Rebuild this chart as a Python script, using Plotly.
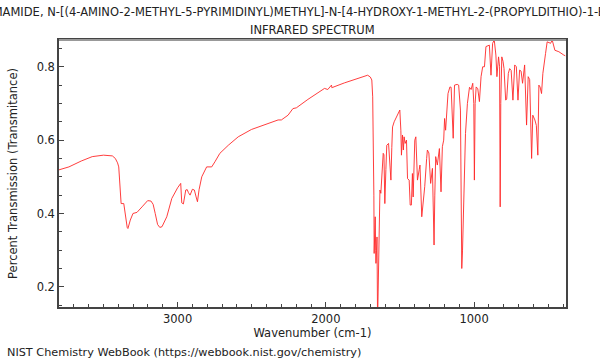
import plotly.graph_objects as go

title_line1 = "FORMAMIDE, N-[(4-AMINO-2-METHYL-5-PYRIMIDINYL)METHYL]-N-[4-HYDROXY-1-METHYL-2-(PROPYLDITHIO)-1-BUTENYL]-"
title_line2 = "INFRARED SPECTRUM"
x_label = "Wavenumber (cm-1)"
y_label = "Percent Transmission (Transmitance)"
footer = "NIST Chemistry WebBook (https://webbook.nist.gov/chemistry)"

wavenumber = [
    3800, 3733, 3650, 3576, 3500, 3464, 3440, 3420, 3405, 3397, 3386, 3381, 3363, 3352, 3340, 3335,
    3319, 3301, 3274, 3240, 3202, 3180, 3165, 3151, 3135, 3120, 3105, 3073, 3039, 3000, 2979, 2972,
    2961, 2945, 2935, 2927, 2916, 2900, 2887, 2875, 2866, 2855, 2837, 2804, 2770, 2748, 2715, 2658,
    2591, 2502, 2412, 2322, 2300, 2255, 2222, 2199, 2121, 2009, 1987, 1962, 1958, 1953, 1875, 1785,
    1740, 1718, 1700, 1690, 1684, 1680, 1676, 1674, 1670, 1667, 1664, 1662, 1658, 1655, 1651, 1647,
    1644, 1640, 1635, 1629, 1620, 1613, 1608, 1602, 1595, 1589, 1577, 1570, 1561, 1555, 1550, 1539,
    1512, 1501, 1494, 1490, 1483, 1477, 1472, 1465, 1456, 1449, 1438, 1431, 1423, 1416, 1411, 1405,
    1400, 1393, 1388, 1382, 1370, 1365, 1353, 1333, 1320, 1315, 1305, 1293, 1281, 1276, 1270, 1265,
    1259, 1248, 1241, 1234, 1223, 1214, 1205, 1199, 1192, 1176, 1163, 1155, 1141, 1132, 1114, 1104,
    1092, 1086, 1083, 1078, 1072, 1058, 1045, 1031, 1020, 1009, 1002, 998, 993, 986, 975, 964,
    953, 942, 930, 920, 897, 886, 875, 864, 853, 846, 835, 828, 824, 820, 813, 805,
    798, 787, 780, 769, 760, 750, 738, 726, 715, 704, 693, 683, 673, 659, 646, 635,
    625, 619, 612, 604, 590, 580, 570, 563, 555, 545, 536, 518, 507, 484, 473, 455,
    428, 395, 385,
]
transmittance = [
    0.519, 0.527, 0.543, 0.555, 0.559, 0.559, 0.557, 0.550, 0.538, 0.527, 0.473, 0.427, 0.427, 0.391, 0.362, 0.359,
    0.382, 0.400, 0.403, 0.418, 0.435, 0.434, 0.425, 0.400, 0.370, 0.362, 0.364, 0.391, 0.441, 0.470, 0.482, 0.429,
    0.426, 0.464, 0.465, 0.457, 0.450, 0.466, 0.464, 0.445, 0.432, 0.465, 0.500, 0.527, 0.527, 0.541, 0.564, 0.586,
    0.609, 0.629, 0.641, 0.655, 0.655, 0.668, 0.686, 0.688, 0.711, 0.741, 0.738, 0.750, 0.742, 0.744, 0.756, 0.768,
    0.774, 0.777, 0.772, 0.764, 0.718, 0.627, 0.450, 0.291, 0.350, 0.391, 0.300, 0.264, 0.300, 0.336, 0.100, 0.200,
    0.309, 0.400, 0.464, 0.455, 0.520, 0.564, 0.560, 0.427, 0.520, 0.586, 0.591, 0.550, 0.491, 0.580, 0.636, 0.650,
    0.673, 0.682, 0.627, 0.559, 0.614, 0.573, 0.609, 0.591, 0.600, 0.495, 0.491, 0.423, 0.423, 0.509, 0.445, 0.550,
    0.600, 0.609, 0.550, 0.491, 0.520, 0.532, 0.391, 0.473, 0.550, 0.573, 0.565, 0.482, 0.523, 0.450, 0.314, 0.450,
    0.555, 0.532, 0.555, 0.577, 0.459, 0.582, 0.600, 0.659, 0.627, 0.727, 0.745, 0.744, 0.605, 0.750, 0.752, 0.750,
    0.682, 0.400, 0.250, 0.300, 0.409, 0.618, 0.700, 0.744, 0.738, 0.755, 0.700, 0.491, 0.700, 0.745, 0.740, 0.705,
    0.773, 0.800, 0.800, 0.855, 0.859, 0.777, 0.864, 0.873, 0.832, 0.773, 0.827, 0.800, 0.418, 0.700, 0.827, 0.815,
    0.795, 0.709, 0.712, 0.782, 0.795, 0.790, 0.709, 0.805, 0.800, 0.709, 0.791, 0.788, 0.755, 0.805, 0.641, 0.773,
    0.765, 0.691, 0.550, 0.668, 0.655, 0.640, 0.559, 0.750, 0.745, 0.727, 0.782, 0.836, 0.868, 0.864, 0.873, 0.845,
    0.841, 0.832, 0.830,
]

x_range = [3800, 380]
y_range = [0.145, 0.873]

FONT = "DejaVu Sans"
FS = 11.5
TXT = "#222222"

fig = go.Figure()
fig.add_trace(go.Scatter(
    x=wavenumber, y=transmittance, mode="lines",
    line=dict(color="rgb(255,40,40)", width=0.9),
    hoverinfo="skip", showlegend=False,
))

axis_common = dict(
    showgrid=False, zeroline=False, showline=True, linecolor="#444444", linewidth=1.5,
    ticks="inside", ticklen=5, tickwidth=1, tickcolor="#444444",
    tickfont=dict(family=FONT, size=FS, color=TXT),
)

fig.update_xaxes(
    range=x_range, tick0=0, dtick=1000, mirror=True,
    minor=dict(ticks="inside", ticklen=3, dtick=100, tickcolor="#444444"),
    title=dict(text=x_label, font=dict(family=FONT, size=FS, color=TXT), standoff=2),
    **axis_common,
)
fig.update_yaxes(
    range=y_range, tick0=0, dtick=0.2, tickformat=".1f", mirror=True,
    minor=dict(ticks="inside", ticklen=3, dtick=0.05, tickcolor="#444444"),
    title=dict(text=y_label, font=dict(family=FONT, size=FS, color=TXT), standoff=17),
    **axis_common,
)

fig.update_layout(
    width=600, height=360,
    margin=dict(l=57, r=34, t=40, b=53),
    paper_bgcolor="white", plot_bgcolor="white",
    font=dict(family=FONT, size=FS, color=TXT),
    shapes=[dict(type="line", xref="paper", yref="paper", x0=0, x1=1, y0=1, y1=1,
                 line=dict(color="#999999", width=2))],
    annotations=[
        dict(text=title_line1, xref="paper", yref="paper", x=0.503, y=1.105, xanchor="center",
             yanchor="middle", showarrow=False, font=dict(family=FONT, size=FS, color=TXT)),
        dict(text=title_line2, xref="paper", yref="paper", x=0.5, y=1.0375, xanchor="center",
             yanchor="middle", showarrow=False, font=dict(family=FONT, size=FS, color=TXT)),
        dict(text=footer, xref="paper", yref="paper", x=-0.106, y=-0.172, xanchor="left",
             yanchor="middle", showarrow=False, font=dict(family=FONT, size=11.25, color=TXT)),
    ],
)

fig.write_html("out.html")
